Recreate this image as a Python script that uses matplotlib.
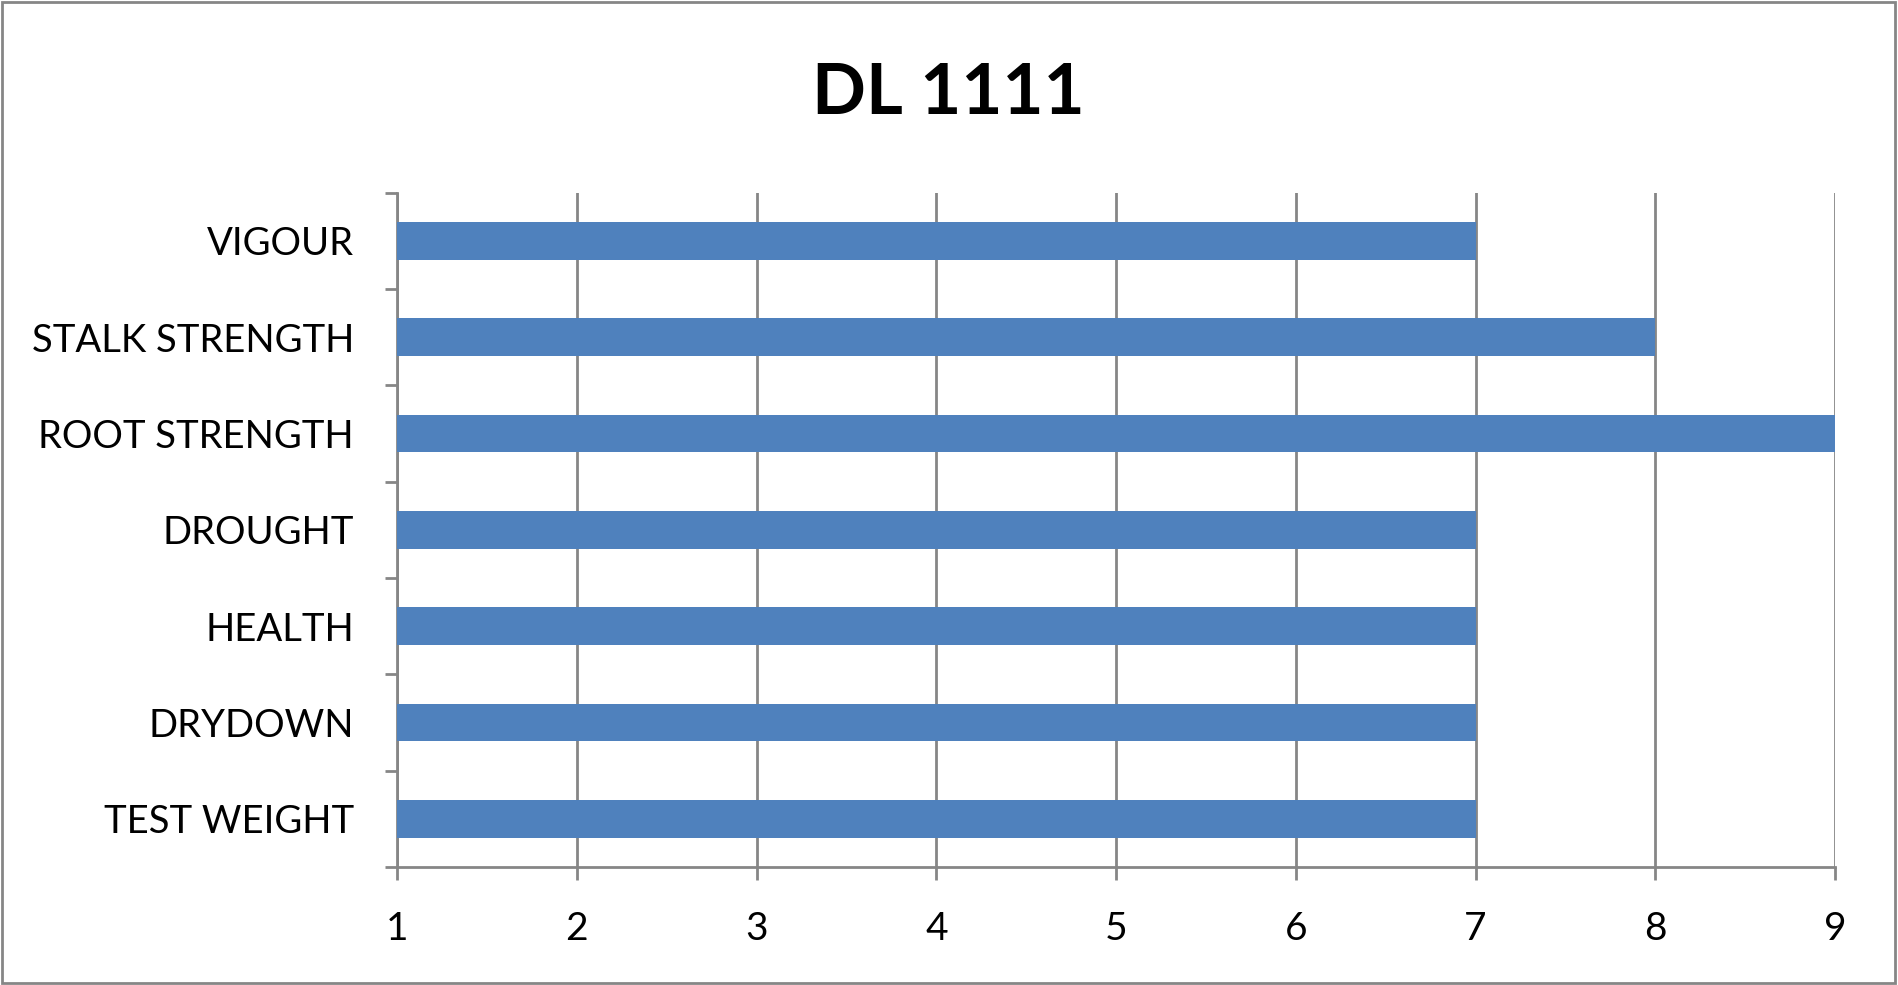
import matplotlib
matplotlib.use("Agg")
import matplotlib.pyplot as plt
from matplotlib.patches import Rectangle

categories = ["VIGOUR", "STALK STRENGTH", "ROOT STRENGTH", "DROUGHT",
              "HEALTH", "DRYDOWN", "TEST WEIGHT"]
values = [7, 8, 9, 7, 7, 7, 7]
x_ticks = [1, 2, 3, 4, 5, 6, 7, 8, 9]
title = "DL 1111"

GRAY = "#868686"
BLUE = "#4F81BD"

plt.rcParams['font.family'] = ['Lato', 'DejaVu Sans']

fig = plt.figure(figsize=(18.99, 9.85), dpi=100)
ax = fig.add_axes([0.2091, 0.1198, 0.7572, 0.6847])

# bars are drawn from the axis origin at 1
pos = list(range(len(categories)))
ax.barh(pos, [v - 1 for v in values], left=1, height=0.39, color=BLUE, zorder=3)

ax.set_xlim(1, 9)
ax.set_ylim(len(categories) - 0.5, -0.5)
ax.set_xticks(x_ticks)
ax.set_xticklabels([str(t) for t in x_ticks], fontsize=28)

# category labels at centres, tick marks at boundaries
ax.set_yticks([p - 0.5 for p in pos] + [len(categories) - 0.5])
ax.set_yticklabels([])
ax.set_yticks(pos, minor=True)
ax.set_yticklabels(categories, minor=True, fontsize=27.5)
ax.tick_params(axis="y", which="minor", length=0, pad=31)
ax.tick_params(axis="y", which="major", length=9, width=2, color=GRAY, direction="out")
ax.tick_params(axis="x", length=9, width=2, color=GRAY, direction="out", pad=23)

ax.grid(axis="x", color=GRAY, linewidth=2, zorder=0)
for s in ["top", "right"]:
    ax.spines[s].set_visible(False)
for s in ["left", "bottom"]:
    ax.spines[s].set_color(GRAY)
    ax.spines[s].set_linewidth(2)

fig.text(0.4995, 0.905, title, ha="center", va="center", fontsize=51, fontweight="bold")

fig.patches.append(Rectangle((0.001, 0.002), 0.997, 0.996, transform=fig.transFigure,
                             fill=False, edgecolor=GRAY, linewidth=2))

fig.savefig("out.png", dpi=100)
